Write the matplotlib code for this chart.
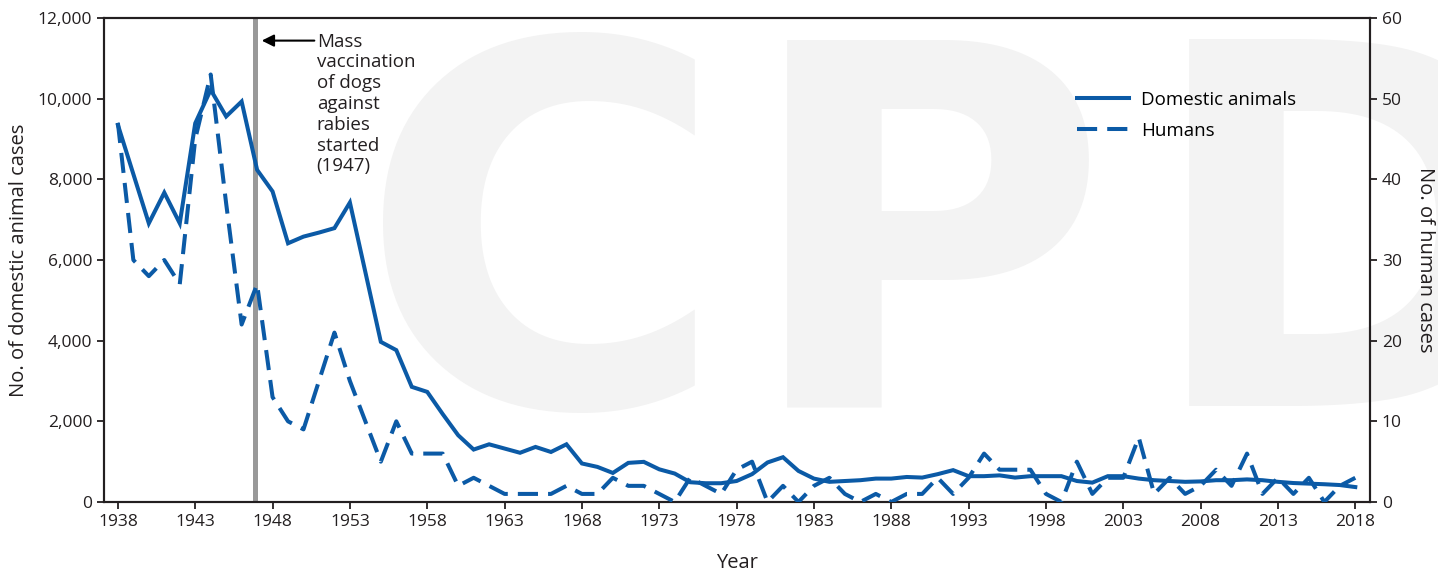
import matplotlib
matplotlib.use("Agg")
import matplotlib.pyplot as plt
from matplotlib.ticker import FuncFormatter
from matplotlib.lines import Line2D

plt.rcParams['font.family'] = ['Open Sans', 'DejaVu Sans']

years = list(range(1938, 2019))

# domestic animal cases (left axis)
animals = [9350, 8130, 6910, 7670, 6910, 9390, 10220, 9560, 9930, 8235,
           7700, 6415, 6580, 6680, 6790, 7425, 5700, 3970, 3765, 2855,
           2730, 2180, 1655, 1300, 1430, 1325, 1220, 1365, 1240, 1430,
           955, 870, 720, 970, 995, 810, 705, 490, 465, 465,
           520, 690, 980, 1110, 770, 580, 500, 520, 540, 580,
           580, 620, 605, 690, 790, 640, 640, 660, 605, 640,
           640, 640, 520, 480, 640, 640, 580, 540, 520, 500,
           510, 540, 540, 560, 540, 500, 470, 455, 440, 420,
           370]

# human cases (right axis)
humans = [47, 30, 28, 30, 27, 45, 53, 37, 22, 27,
          13, 10, 9, 15, 21, 15, 10, 5, 10, 6,
          6, 6, 2, 3, 2, 1, 1, 1, 1, 2,
          1, 1, 3, 2, 2, 1, 0, 3, 2, 1,
          4, 5, 0, 2, 0, 2, 3, 1, 0, 1,
          0, 1, 1, 3, 1, 3, 6, 4, 4, 4,
          1, 0, 5, 1, 3, 3, 8, 1, 3, 1,
          2, 4, 2, 6, 1, 3, 1, 3, 0, 2,
          3]

xticks = list(range(1938, 2019, 5))
vacc_year = 1946.85
note = "Mass\nvaccination\nof dogs\nagainst\nrabies\nstarted\n(1947)"

blue = '#0b5aa6'
ink = '#231f20'

fig = plt.figure(figsize=(14.38, 5.76), dpi=100)

# faint watermark letters behind the chart
for ch, xpos in zip("CPD", [0.249, 0.515, 0.795]):
    fig.text(xpos, 0.295, ch, fontsize=362, fontweight='bold', color='#f3f3f3',
             family='DejaVu Sans', ha='left', va='baseline', zorder=-5)

ax = fig.add_axes([0.0723, 0.1285, 0.8804, 0.8402])
ax.patch.set_alpha(0)
ax2 = ax.twinx()
ax2.patch.set_alpha(0)

ax.axvline(vacc_year, color='#999999', lw=3.6, zorder=1)
ax.plot(years, animals, color=blue, lw=2.9, solid_joinstyle='miter', zorder=3)
ax2.plot(years, humans, color=blue, lw=2.9, dashes=(5, 2.5), zorder=3)

ax.set_xlim(1937.1, 2018.95)
ax.set_ylim(0, 12000)
ax2.set_ylim(0, 60)
ax.set_xticks(xticks)
ax.set_yticks(range(0, 12001, 2000))
ax2.set_yticks(range(0, 61, 10))
ax.yaxis.set_major_formatter(FuncFormatter(lambda v, p: f"{int(v):,}"))

for a in (ax, ax2):
    for s in a.spines.values():
        s.set_color(ink)
        s.set_linewidth(1.5)
    a.tick_params(length=5, width=1.3, color=ink, labelsize=12.5, labelcolor=ink)

ax.set_xlabel("Year", fontsize=14.5, color=ink, labelpad=17)
ax.set_ylabel("No. of domestic animal cases", fontsize=14.5, color=ink, labelpad=6)
ax2.set_ylabel("No. of human cases", fontsize=14.5, color=ink, rotation=270,
               labelpad=24)

ax.annotate('', xy=(1947.3, 11440), xytext=(1950.7, 11440),
            arrowprops=dict(arrowstyle='-|>', color='black', lw=1.5,
                            mutation_scale=18, shrinkA=0, shrinkB=0))
ax.text(1950.85, 11640, note, fontsize=13.5, color=ink, va='top', ha='left',
        linespacing=1.2)

handles = [Line2D([], [], color=blue, lw=2.9),
           Line2D([], [], color=blue, lw=2.9, dashes=(5, 2.5))]
ax.legend(handles, ["Domestic animals", "Humans"], loc='upper left',
          bbox_to_anchor=(0.755, 0.885), frameon=False, fontsize=13.5,
          handlelength=2.8, labelspacing=0.7, handletextpad=0.65)

fig.savefig("out.png", dpi=100)
